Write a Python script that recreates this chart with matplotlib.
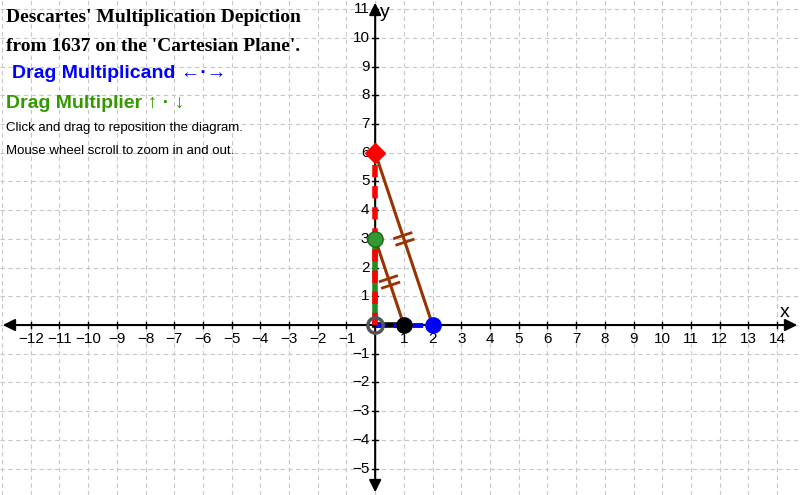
import numpy as np
import matplotlib.pyplot as plt

plt.rcParams['font.family'] = 'Liberation Sans'

multiplicand = 2
multiplier = 3
unit = 1
product = multiplicand * multiplier

x_ticks = [t for t in range(-12, 15) if t != 0]
y_ticks = [t for t in range(-5, 12) if t != 0]

fig = plt.figure(figsize=(8, 4.95), dpi=100)
ax = fig.add_axes([0, 0, 1, 1])
ax.set_xlim(-13.07, 14.8)
ax.set_ylim(-5.92, 11.32)
ax.axis('off')

# grid
for gx in np.arange(-13, 15):
    ax.axvline(gx, color='#c8c8c8', lw=0.8, ls=(0, (4, 3)), zorder=0)
for gy in np.arange(-5, 12):
    ax.axhline(gy, color='#c8c8c8', lw=0.8, ls=(0, (4, 3)), zorder=0)

# axes with arrows
ax.annotate('', xy=(14.8, 0), xytext=(-13.07, 0),
            arrowprops=dict(arrowstyle='<|-|>', color='black', lw=1.5, mutation_scale=18))
ax.annotate('', xy=(0, 11.32), xytext=(0, -5.92),
            arrowprops=dict(arrowstyle='<|-|>', color='black', lw=1.5, mutation_scale=18))
ax.text(14.1, 0.15, 'x', fontsize=14, ha='left', va='bottom')
ax.text(0.15, 10.9, 'y', fontsize=14, ha='left', va='center')
for t in x_ticks:
    ax.plot([t, t], [-0.1, 0.1], color='black', lw=1)
    ax.text(t, -0.25, '\u2212%d' % -t if t < 0 else str(t), ha='center', va='top', fontsize=11)
for t in y_ticks:
    ax.plot([-0.1, 0.1], [t, t], color='black', lw=1)
    ax.text(-0.2, t, '\u2212%d' % -t if t < 0 else str(t), ha='right', va='center', fontsize=11)

# segments along axes
ax.plot([0, 0], [0, multiplier], color='#228b22', lw=4, zorder=3)
ax.plot([0, 0], [0, product], color='red', lw=4, ls=(0, (2.2, 1.6)), zorder=4)
ax.plot([0, unit], [0, 0], color='black', lw=4, zorder=3)
ax.plot([0, multiplicand], [0, 0], color='blue', lw=3.5, ls=(0, (2.2, 1.6)), zorder=3)

# parallel lines
brown = '#993300'
for (x0, y0) in [(unit, multiplier), (multiplicand, product)]:
    ax.plot([0, x0], [y0, 0], color=brown, lw=2.2, zorder=5)
    mx, my = x0 / 2, y0 / 2
    d = np.array([x0, -y0]) / np.hypot(x0, y0)
    n = np.array([y0, x0]) / np.hypot(x0, y0)
    for s in (-0.12, 0.12):
        c = np.array([mx, my]) + s * d
        p1 = c - 0.3 * n
        p2 = c + 0.3 * n
        ax.plot([p1[0], p2[0]], [p1[1], p2[1]], color=brown, lw=2, zorder=5)

# points
ax.plot(0, 0, 'o', ms=11, mfc='none', mec='#555555', mew=2.5, zorder=7)
ax.plot(unit, 0, 'o', ms=11, color='black', zorder=7)
ax.plot(multiplicand, 0, 'o', ms=11, color='blue', zorder=7)
ax.plot(0, multiplier, 'o', ms=11, color='#339933', mec='#1a661a', zorder=7)
ax.plot(0, product, 'D', ms=10, color='red', zorder=7)

# text
ax.text(-12.85, 10.7, "Descartes' Multiplication Depiction", fontsize=14,
        fontweight='bold', family='Liberation Serif', va='center')
ax.text(-12.85, 9.7, "from 1637 on the 'Cartesian Plane'.", fontsize=14,
        fontweight='bold', family='Liberation Serif', va='center')
ax.text(-12.65, 8.75, 'Drag Multiplicand \u2190\u00b7\u2192', fontsize=14,
        fontweight='bold', color='#0000ff', va='center')
ax.text(-12.85, 7.7, 'Drag Multiplier \u2191 \u00b7 \u2193', fontsize=14,
        fontweight='bold', color='#339900', va='center')
ax.text(-12.85, 6.85, 'Click and drag to reposition the diagram.', fontsize=9.5, va='center')
ax.text(-12.85, 6.05, 'Mouse wheel scroll to zoom in and out.', fontsize=9.5, va='center')

fig.savefig('out.png', dpi=100)
